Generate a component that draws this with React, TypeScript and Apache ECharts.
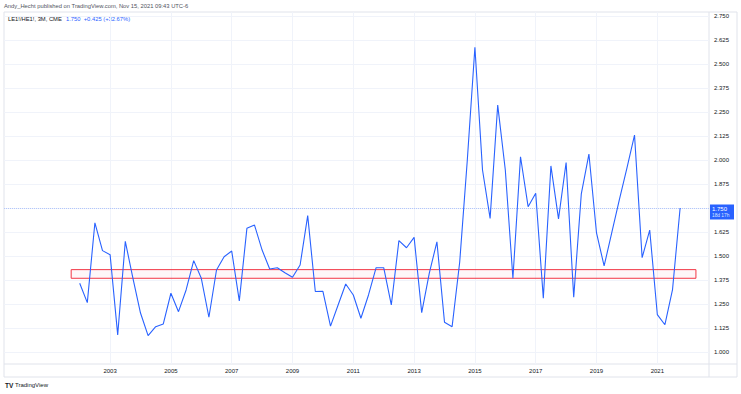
import React, { useEffect, useRef } from "react";
import * as echarts from "echarts";

// Quarterly LE1!/HE1! ratio, first bar = Q1 2002
const START_YEAR = 2002;
const ratio: number[] = [
  1.358, 1.257, 1.673, 1.528, 1.507, 1.089, 1.576, 1.385, 1.203, 1.085,
  1.132, 1.146, 1.306, 1.21, 1.323, 1.476, 1.384, 1.181, 1.427, 1.496,
  1.526, 1.266, 1.644, 1.661, 1.531, 1.432, 1.439, 1.413, 1.389, 1.453,
  1.71, 1.315, 1.316, 1.135, 1.245, 1.354, 1.297, 1.176, 1.297, 1.439,
  1.439, 1.245, 1.58, 1.543, 1.597, 1.205, 1.411, 1.574, 1.155, 1.132,
  1.469, 2.0, 2.587, 1.948, 1.696, 2.286, 1.948, 1.384, 2.017, 1.757,
  1.827, 1.28, 1.969, 1.693, 1.987, 1.285, 1.824, 2.031, 1.62, 1.448,
  1.62, 1.792, 1.958, 2.13, 1.491, 1.635, 1.195, 1.142, 1.325, 1.75,
];
const yearTicks: number[] = [2003, 2005, 2007, 2009, 2011, 2013, 2015, 2017, 2019, 2021];
const priceTicks: number[] = [
  1.0, 1.125, 1.25, 1.375, 1.5, 1.625, 1.75, 1.875, 2.0, 2.125, 2.25, 2.375, 2.5, 2.625, 2.75,
];
const lastPrice = 1.75;
const countdown = "18d 17h";
const zoneYears: number[] = [2001.72, 2022.27];
const zonePrices: number[] = [1.384, 1.429];

const FONT = "'Liberation Sans', Arial, sans-serif";
const BLUE = "#2962FF";

export default function App() {
  const ref = useRef<HTMLDivElement>(null);
  useEffect(() => {
    if (!ref.current) return;
    const chart = echarts.init(ref.current, undefined, { renderer: "svg" });
    const data = ratio.map((v, i) => [START_YEAR + i / 4, v]);
    // the last-price tag covers its own axis label, as in the reference
    const labelTicks = priceTicks.filter((p) => p !== lastPrice);
    chart.setOption({
      animation: false,
      backgroundColor: "#ffffff",
      textStyle: { fontFamily: FONT },
      grid: { left: 4, right: 32, top: 12, bottom: 30, containLabel: false },
      xAxis: {
        type: "value",
        min: 1999.51,
        max: 2022.7,
        axisLine: { show: false },
        axisTick: { show: false, customValues: yearTicks },
        axisLabel: {
          customValues: yearTicks,
          formatter: (v: number) => String(Math.round(v)),
          fontSize: 6,
          color: "#131722",
          margin: 4,
          fontFamily: FONT,
        },
        splitLine: { show: true, lineStyle: { color: "#f0f3fa", width: 1 } },
      },
      yAxis: {
        type: "value",
        position: "right",
        min: 0.9375,
        max: 2.7708,
        axisLine: { show: false },
        axisTick: { show: false, customValues: priceTicks },
        axisLabel: {
          customValues: labelTicks,
          formatter: (v: number) => v.toFixed(3),
          fontSize: 6,
          color: "#131722",
          margin: 5,
          fontFamily: FONT,
        },
        splitLine: { show: true, lineStyle: { color: "#f0f3fa", width: 1 } },
      },
      series: [
        {
          type: "line",
          data,
          showSymbol: false,
          lineStyle: { color: BLUE, width: 1.1 },
          markArea: {
            silent: true,
            itemStyle: {
              color: "rgba(242,54,69,0.04)",
              borderColor: "#f23645",
              borderWidth: 1,
            },
            data: [
              [
                { coord: [zoneYears[0], zonePrices[1]] },
                { coord: [zoneYears[1], zonePrices[0]] },
              ],
            ],
          },
          markLine: {
            silent: true,
            symbol: "none",
            data: [{ yAxis: lastPrice }],
            lineStyle: { color: "rgba(41,98,255,0.3)", type: "dotted", width: 1 },
            label: {
              show: true,
              position: "end",
              distance: 1,
              offset: [0, 4],
              formatter: "{a|" + lastPrice.toFixed(3) + "}\n{b|" + countdown + "}",
              backgroundColor: BLUE,
              color: "#ffffff",
              width: 20,
              align: "left",
              padding: [1, 2, 1, 2],
              rich: {
                a: { color: "#ffffff", fontSize: 6, fontFamily: FONT, lineHeight: 7 },
                b: { color: "#dbe5ff", fontSize: 4.8, fontFamily: FONT, lineHeight: 6 },
              },
            },
          },
        },
      ],
      graphic: [
        {
          type: "rect",
          shape: { x: 4, y: 12, width: 733, height: 365 },
          style: { fill: "none", stroke: "#e0e3eb", lineWidth: 1 },
          silent: true,
        },
        {
          type: "line",
          shape: { x1: 709, y1: 12, x2: 709, y2: 377 },
          style: { stroke: "#e0e3eb", lineWidth: 1 },
          silent: true,
        },
        {
          type: "line",
          shape: { x1: 4, y1: 364, x2: 737, y2: 364 },
          style: { stroke: "#e0e3eb", lineWidth: 1 },
          silent: true,
        },
        {
          type: "text",
          x: 4,
          y: 6,
          style: {
            text: "Andy_Hecht published on TradingView.com, Nov 15, 2021 09:43 UTC-6",
            fontSize: 5.8,
            fontFamily: FONT,
            fill: "#50535e",
            verticalAlign: "middle",
          },
        },
        {
          type: "text",
          x: 8,
          y: 19,
          style: {
            text: "LE1!/HE1!, 3M, CME",
            fontSize: 5.8,
            fontFamily: FONT,
            fill: "#131722",
            verticalAlign: "middle",
          },
        },
        {
          type: "text",
          x: 66,
          y: 19,
          style: {
            text: "1.750  +0.425 (+32.67%)",
            fontSize: 5.8,
            fontFamily: FONT,
            fill: BLUE,
            verticalAlign: "middle",
          },
        },
        {
          type: "text",
          x: 5,
          y: 385,
          style: {
            text: "TV",
            fontSize: 6.5,
            fontWeight: "bold",
            fontFamily: FONT,
            fill: "#131722",
            verticalAlign: "middle",
          },
        },
        {
          type: "text",
          x: 15,
          y: 385,
          style: {
            text: "TradingView",
            fontSize: 6,
            fontFamily: FONT,
            fill: "#131722",
            verticalAlign: "middle",
          },
        },
      ],
    });
    return () => chart.dispose();
  }, []);
  return (
    <div
      ref={ref}
      style={{ position: "fixed", left: 0, top: 0, width: 741, height: 394, background: "#fff" }}
    />
  );
}
